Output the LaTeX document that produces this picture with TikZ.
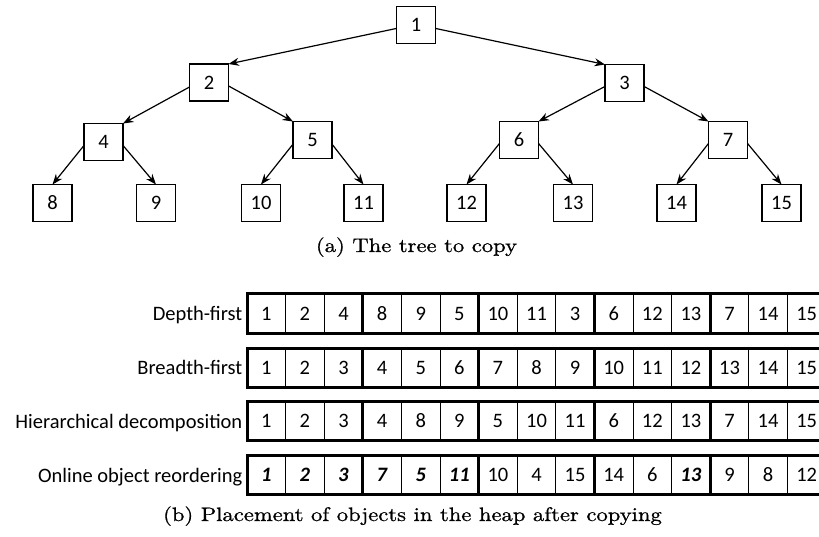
\documentclass[tikz,border=0pt]{standalone}
\usepackage{fontspec}
\setmainfont{Carlito}
\newfontfamily\capfont{lmroman10-regular.otf}[FakeStretch=1.16,FakeBold=0.8]
\usetikzlibrary{arrows.meta}
\begin{document}
\begin{tikzpicture}[x=1pt,y=-1pt,
  tnode/.style={draw, line width=1.7pt, minimum width=39pt, minimum height=37pt, inner sep=0pt, outer sep=0pt, font=\fontsize{20.5}{20.5}\selectfont},
  edge/.style={line width=1.2pt, -{Stealth[length=10.5pt,width=8pt]}},
  cell/.style={draw, line width=0.9pt, minimum width=38.6pt, minimum height=39pt, inner sep=0pt, outer sep=0pt, font=\fontsize{20.5}{20.5}\selectfont},
  rowlabel/.style={anchor=base east, inner sep=0pt, font=\fontsize{20.5}{20.5}\selectfont},
  thickline/.style={line width=3pt},
  capt/.style={anchor=base, inner sep=0pt, font=\capfont\fontsize{19.5}{20}\selectfont}
]
\useasboundingbox (0,0) rectangle (819,537);
% tree
\node[tnode] (n1) at (416,25) {1};
\node[tnode] (n2) at (209,82.5) {2};
\node[tnode] (n3) at (624.5,83) {3};
\node[tnode] (n4) at (103.5,142) {4};
\node[tnode] (n5) at (312.5,140) {5};
\node[tnode] (n6) at (519,140) {6};
\node[tnode] (n7) at (728,140) {7};
\node[tnode] (n8) at (52.5,203) {8};
\node[tnode] (n9) at (156,203) {9};
\node[tnode] (n10) at (261,203) {10};
\node[tnode] (n11) at (363.5,203) {11};
\node[tnode] (n12) at (466.5,203) {12};
\node[tnode] (n13) at (573,203) {13};
\node[tnode] (n14) at (676.5,203) {14};
\node[tnode] (n15) at (781.5,203) {15};
\draw[edge] (n1.190) -- (n2.north east);
\draw[edge] (n1.350) -- (n3.north west);
\draw[edge] (n2.193) -- (n4.north east);
\draw[edge] (n2.350) -- (n5.north west);
\draw[edge] (n3.190) -- (n6.north east);
\draw[edge] (n3.350) -- (n7.north west);
\draw[edge] (n4.190) -- (n8.north);
\draw[edge] (n4.350) -- (n9.north);
\draw[edge] (n5.192) -- (n10.north);
\draw[edge] (n5.348) -- (n11.north);
\draw[edge] (n6.190) -- (n12.north);
\draw[edge] (n6.350) -- (n13.north);
\draw[edge] (n7.190) -- (n14.north);
\draw[edge] (n7.350) -- (n15.north);
\node[capt] (capa) at (416.5,252) {(a) The tree to copy};
% arrays
\foreach \v [count=\i] in {1,2,4,8,9,5,10,11,3,6,12,13,7,14,15}
  \node[cell] (a\i) at ({247+38.6*(\i-0.5)},313.5) {\v};
\foreach \v [count=\i] in {1,2,3,4,5,6,7,8,9,10,11,12,13,14,15}
  \node[cell] (b\i) at ({247+38.6*(\i-0.5)},367.5) {\v};
\foreach \v [count=\i] in {1,2,3,4,8,9,5,10,11,6,12,13,7,14,15}
  \node[cell] (c\i) at ({247+38.6*(\i-0.5)},421) {\v};
\foreach \v [count=\i] in {\textbf{\textit{1}},\textbf{\textit{2}},\textbf{\textit{3}},\textbf{\textit{7}},\textbf{\textit{5}},\textbf{\textit{11}},10,4,15,14,6,\textbf{\textit{13}},9,8,12}
  \node[cell] (d\i) at ({247+38.6*(\i-0.5)},475) {\v};
\foreach \r in {a,b,c,d}{
  \draw[thickline] (\r1.north west) rectangle (\r15.south east);
  \foreach \k in {3,6,9,12}
    \draw[thickline] (\r\k.north east) -- (\r\k.south east);
}
\node[rowlabel] (la) at (242.5,320.5) {Depth-first};
\node[rowlabel] (lb) at (242.5,374.5) {Breadth-first};
\node[rowlabel] (lc) at (242.5,428) {Hierarchical decomposition};
\node[rowlabel] (ld) at (242.5,482) {Online object reordering};
\node[capt] (capb) at (412.5,521) {(b) Placement of objects in the heap after copying};
\end{tikzpicture}
\end{document}
